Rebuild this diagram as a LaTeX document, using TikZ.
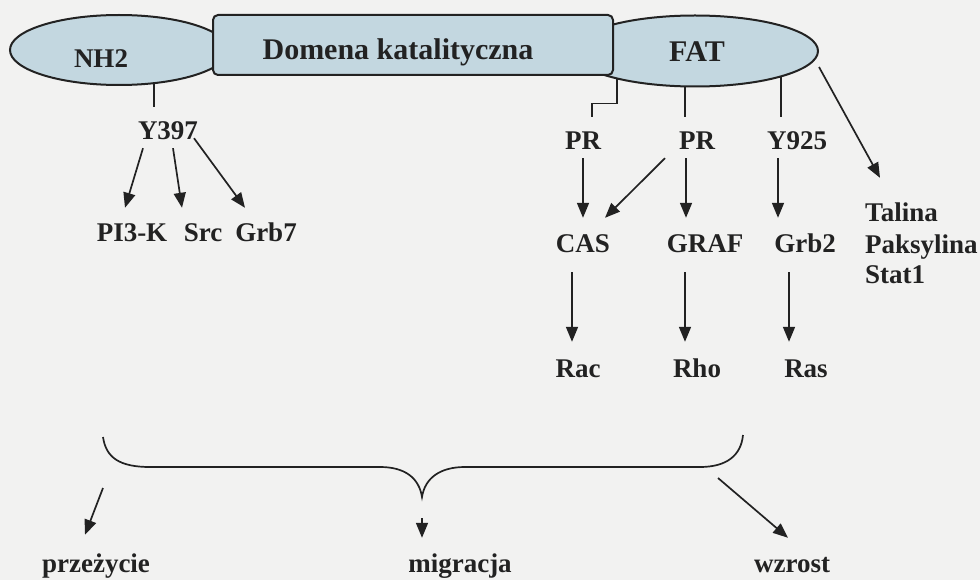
\documentclass[tikz,border=0pt]{standalone}
\usepackage{fontspec}
\setmainfont{Liberation Serif}
\usetikzlibrary{arrows.meta,positioning,shapes.geometric}
\definecolor{domfill}{RGB}{195,215,224}
\definecolor{ink}{RGB}{34,34,34}
\definecolor{paper}{RGB}{242,242,241}

\begin{document}
\begin{tikzpicture}[
  x=1pt, y=-1pt,
  t/.style={font=\fontsize{27}{30}\selectfont\bfseries, text=ink, inner sep=0pt,
            text height=19pt, text depth=6pt, anchor=base},
  big/.style={t, font=\fontsize{30}{33}\selectfont\bfseries},
  dombox/.style={draw=ink, line width=2pt, fill=domfill, inner sep=0pt},
  l/.style={line width=1.7pt, draw=ink},
  a/.style={l, -{Triangle[length=15pt,width=12pt]}},
  dn/.style={a, shorten <=2pt, shorten >=16pt},
]
\fill[paper] (0,0) rectangle (980,580);
\useasboundingbox (0,0) rectangle (980,580);

% FAK domains: ellipses first, catalytic box on top
\node[dombox, ellipse, minimum width=218pt, minimum height=70pt] (nh2) at (119,50) {};
\node[dombox, ellipse, minimum width=246pt, minimum height=71pt] (fat) at (695,51) {};
\node[dombox, rounded corners=5pt, minimum width=400pt, minimum height=60pt] (kat) at (413,45) {};
\node[t] (nh2t) at (101,68) {NH2};
\node[big] (katt) at (398,60) {Domena katalityczna};
\node[big] (fatt) at (697,62) {FAT};

% NH2 branch
\node[t] (y397) at (168,140) {Y397};
\node[t] (pi3k) at (132,242) {PI3-K};
\node[t] (src) at (203,242) {Src};
\node[t] (grb7) at (266,242) {Grb7};

% FAT branch
\node[t] (pr1) at (583,150) {PR};
\node[t] (pr2) at (697,150) {PR};
\node[t] (y925) at (797,150) {Y925};
\node[t] (cas) at (583,253) {CAS};
\node[t] (graf) at (705,253) {GRAF};
\node[t] (grb2) at (805,253) {Grb2};
\node[t, anchor=base west] (talina) at (865,222) {Talina};
\node[t, below right=6pt and 0pt of talina.south west] (paks) {Paksylina};
\node[t, below right=5pt and 0pt of paks.south west] (stat) {Stat1};
\node[t] (rac) at (578,377) {Rac};
\node[t] (rho) at (697,377) {Rho};
\node[t] (ras) at (806,377) {Ras};

% effects
\node[t] (przez) at (96,572) {przeżycie};
\node[t] (migr) at (460,572) {migracja};
\node[t] (wzr) at (792,572) {wzrost};

\draw[l, shorten >=14pt] (nh2.-44) -- (nh2.-44 |- y397.north);
\draw[a] ([xshift=-25pt,yshift=-2pt]y397.south) -- ([xshift=-7pt,yshift=15pt]pi3k.north);
\draw[a] ([xshift=5pt,yshift=-2pt]y397.south) -- ([xshift=-21pt,yshift=15pt]src.north);
\draw[a] ([xshift=26pt,yshift=8pt]y397.south) -- ([xshift=-21pt,yshift=15pt]grb7.north);

\draw[l] (fat.-160.6) -- ++(0,24) -| ([xshift=9pt,yshift=14pt]pr1.north);
\draw[l, shorten >=14pt] (fat.-105.8) -- (fat.-105.8 |- pr2.north);
\draw[l, shorten >=14pt] (fat.-17.9) -- (fat.-17.9 |- y925.north);
\draw[a] ([yshift=-16pt]fat.east) -- ([xshift=15pt,yshift=25pt]talina.north west);

\draw[dn] (pr1) -- (cas);
\draw[dn] ([xshift=-11pt]pr2.south) -- ([xshift=-11pt]pr2.south |- graf.north);
\draw[a] ([xshift=-32pt,yshift=-2pt]pr2.south) -- ([xshift=22pt,yshift=16pt]cas.north);
\draw[dn] ([xshift=-19pt]y925.south) -- ([xshift=-19pt]y925.south |- grb2.north);

\draw[a, shorten >=16pt] ([xshift=-11pt,yshift=-13pt]cas.south) -- ([xshift=-11pt]cas.south |- rac.north);
\draw[a, shorten >=16pt] ([xshift=-20pt,yshift=-13pt]graf.south) -- ([xshift=-20pt]graf.south |- rho.north);
\draw[a, shorten >=16pt] ([xshift=-16pt,yshift=-13pt]grb2.south) -- ([xshift=-16pt]grb2.south |- ras.north);

% brace over the pathways
\coordinate (brL) at (103,437);
\coordinate (brR) at (743,435);
\coordinate (brT) at (422,497);
\draw[l] (brL) .. controls (106,458) and (120,467) .. (150,467) -- (380,467)
  .. controls (405,467) and (419,478) .. (brT)
  .. controls (425,478) and (440,467) .. (465,467) -- (700,467)
  .. controls (726,467) and (741,456) .. (brR);

\coordinate (sL) at (103,488);
\coordinate (sM) at (422,518);
\coordinate (sR) at (718,478);
\draw[a] (sL) -- ([xshift=-11pt,yshift=18pt]przez.north);
\draw[a, shorten >=15pt] (sM) -- (sM |- migr.north);
\draw[a] (sR) -- ([xshift=-4pt,yshift=15pt]wzr.north);
\end{tikzpicture}
\end{document}
